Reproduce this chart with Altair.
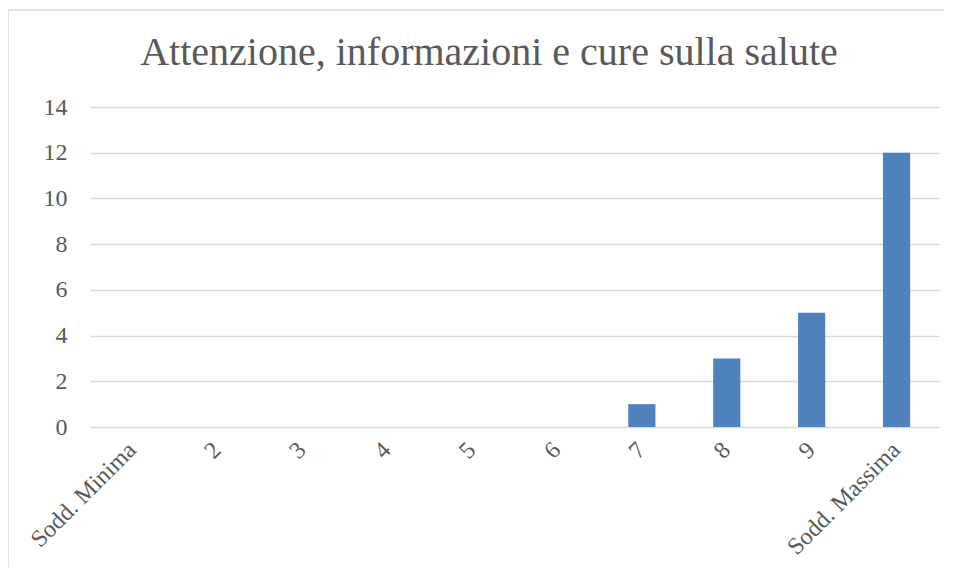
import altair as alt
import pandas as pd

categories = ["Sodd. Minima", "2", "3", "4", "5", "6", "7", "8", "9", "Sodd. Massima"]
values = [0, 0, 0, 0, 0, 0, 1, 3, 5, 12]
y_ticks = [0, 2, 4, 6, 8, 10, 12, 14]
title_text = "Attenzione, informazioni e cure sulla salute"

df = pd.DataFrame({"cat": categories, "val": values})

FONT = "Liberation Serif"
TXT = "#595959"
W, H = 849, 320

bars = alt.Chart(df).mark_bar(color="#4F81BD").encode(
    x=alt.X(
        "cat:N",
        sort=categories,
        scale=alt.Scale(paddingInner=0.68, paddingOuter=0.34),
        axis=alt.Axis(
            title=None,
            labelAngle=-45,
            labelAlign="right",
            labelBaseline="middle",
            labelPadding=19,
            labelFont=FONT,
            labelFontSize=24,
            labelColor=TXT,
            ticks=False,
            tickSize=0,
            domain=False,
            grid=False,
            labelOverlap=False,
        ),
    ),
    y=alt.Y(
        "val:Q",
        scale=alt.Scale(domain=[0, 14], nice=False),
        axis=alt.Axis(
            title=None,
            values=y_ticks,
            labelFont=FONT,
            labelFontSize=24,
            labelColor=TXT,
            labelPadding=23,
            ticks=False,
            tickSize=0,
            domain=False,
            grid=True,
            gridColor="#d9d9d9",
            gridWidth=1.5,
        ),
    ),
)

border = alt.Chart(alt.Data(values=[{"a": 1}])).mark_rect(
    fill="transparent", stroke="#d9d9d9", strokeWidth=1.5
).encode(
    x=alt.value(-82),
    x2=alt.value(880),
    y=alt.value(-97),
    y2=alt.value(490),
)

title = alt.Chart(alt.Data(values=[{"t": title_text}])).mark_text(
    font=FONT,
    fontSize=40,
    color=TXT,
    align="center",
    baseline="alphabetic",
).encode(
    text="t:N",
    x=alt.value(399),
    y=alt.value(-42),
)

chart = alt.layer(border, bars, title).properties(
    width=W,
    height=H,
    autosize=alt.AutoSizeParams(type="none"),
    padding={"left": 82, "top": 99, "right": 5, "bottom": 140},
).configure(background="white").configure_view(stroke=None, strokeWidth=0)

chart.save("out.html", embed_options={"renderer": "svg", "actions": False})
